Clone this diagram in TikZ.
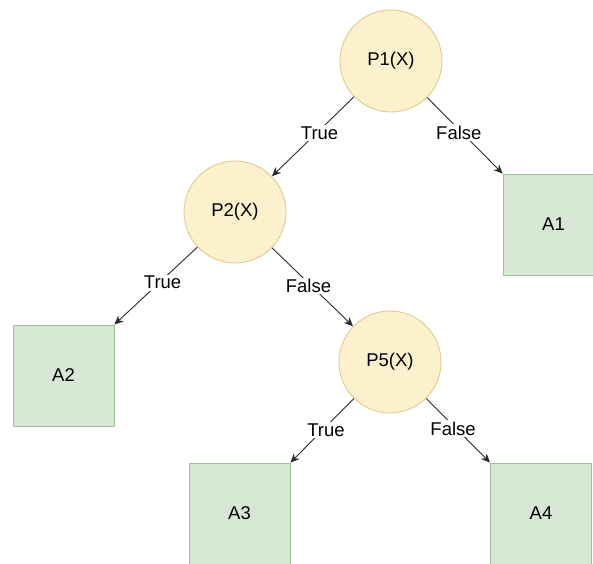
\documentclass[tikz,border=0pt]{standalone}
\usepackage{fontspec}
\setmainfont{Liberation Sans}
\usetikzlibrary{arrows.meta}

\definecolor{testfill}{HTML}{FDF0CD}
\definecolor{testline}{HTML}{E2C98F}
\definecolor{leaffill}{HTML}{D6E8D4}
\definecolor{leafline}{HTML}{9CC393}
\definecolor{wire}{HTML}{2B2B2B}

\tikzset{
  test/.style={circle, minimum size=102pt, inner sep=0pt, fill=testfill,
    draw=testline, line width=0.9pt, font=\fontsize{18.5}{20}\selectfont},
  leaf/.style={rectangle, minimum width=101pt, minimum height=101pt, inner sep=0pt,
    fill=leaffill, draw=leafline, line width=0.9pt, font=\fontsize{18.5}{20}\selectfont},
  wirearrow/.style={draw=wire, line width=0.9pt,
    -{Stealth[length=9pt, width=8pt]}},
  branch/.style={fill=white, inner sep=1.5pt, font=\fontsize{18.5}{20}\selectfont,
    pos=0.42, yshift=-3pt},
}

\begin{document}
\begin{tikzpicture}[x=1pt, y=-1pt]
  \useasboundingbox (0,0) rectangle (593,563);

  % decision nodes
  \node[test] (P1) at (391,61)  {P1(X)};
  \node[test] (P2) at (235,212) {P2(X)};
  \node[test] (P5) at (390,362) {P5(X)};

  % leaf actions
  \node[leaf] (A1) at (553.5,224.5) {A1};
  \node[leaf] (A2) at (63.5,375.5)  {A2};
  \node[leaf] (A3) at (239.5,513.5) {A3};
  \node[leaf] (A4) at (541,513.5)   {A4};

  % branches
  \draw[wirearrow] (P1) -- node[branch] {True}  (P2);
  \draw[wirearrow] (P1) -- node[branch] {False} (A1.north west);
  \draw[wirearrow] (P2) -- node[branch] {True}  (A2.north east);
  \draw[wirearrow] (P2) -- node[branch, pos=0.45] {False} (P5);
  \draw[wirearrow] (P5) -- node[branch, pos=0.44] {True}  (A3.north east);
  \draw[wirearrow] (P5) -- node[branch] {False} (A4.north west);
\end{tikzpicture}
\end{document}
